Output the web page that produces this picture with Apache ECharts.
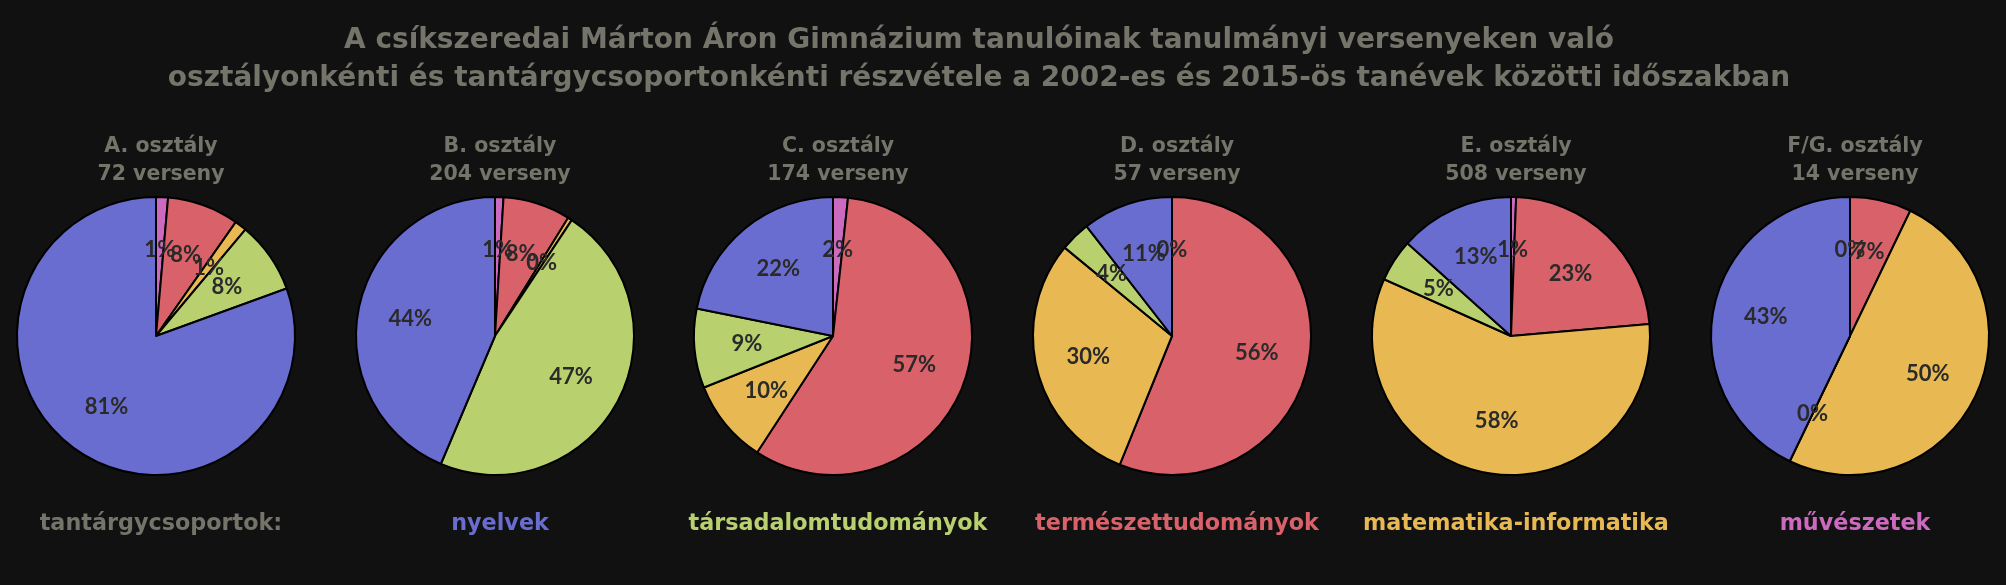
<!DOCTYPE html>
<html><head><meta charset="utf-8">
<script src="https://cdn.jsdelivr.net/npm/echarts@6/dist/echarts.min.js"></script>
<style>html,body{margin:0;padding:0;background:#111111;}#c{width:2006px;height:585px;}</style>
</head><body><div id="c"></div>
<script>
const titleText = 'A csíkszeredai Márton Áron Gimnázium tanulóinak tanulmányi versenyeken való\nosztályonkénti és tantárgycsoportonkénti részvétele a 2002-es és 2015-ös tanévek közötti időszakban';
const categories = ['művészetek', 'természettudományok', 'matematika-informatika', 'társadalomtudományok', 'nyelvek'];
const classNames = ['A. osztály', 'B. osztály', 'C. osztály', 'D. osztály', 'E. osztály', 'F/G. osztály'];
const valuesA = [1, 6, 1, 6, 58];
const valuesB = [2, 16, 1, 96, 89];
const valuesC = [3, 100, 17, 16, 38];
const valuesD = [0, 32, 17, 2, 6];
const valuesE = [3, 117, 295, 25, 68];
const valuesFG = [0, 1, 7, 0, 6];
const legendLabels = ['tantárgycsoportok:', 'nyelvek', 'társadalomtudományok', 'természettudományok', 'matematika-informatika', 'művészetek'];

const allValues = [valuesA, valuesB, valuesC, valuesD, valuesE, valuesFG];
const catColors = {
  'művészetek': '#cc6abf',
  'természettudományok': '#d9616a',
  'matematika-informatika': '#e8b952',
  'társadalomtudományok': '#b8d16e',
  'nyelvek': '#6a6dd0'
};
const gray = '#74746a';
const font = 'DejaVu Sans';
const labelFont = 'Lato';
const centersX = [156, 495, 833, 1172, 1511, 1850];
const centerY = 336;
const R = 139;

const titles = [{
  text: titleText, left: 974, top: 17, textAlign: 'center',
  textStyle: { color: gray, fontFamily: font, fontWeight: 'bold', fontSize: 28, lineHeight: 38 }
}];
classNames.forEach((n, i) => {
  const total = allValues[i].reduce((a, b) => a + b, 0);
  titles.push({
    text: n + '\n' + total + ' verseny', left: centersX[i], top: 128, textAlign: 'center',
    textStyle: { color: gray, fontFamily: font, fontWeight: 'bold', fontSize: 20.5, lineHeight: 28 }
  });
});
legendLabels.forEach((t, i) => {
  titles.push({
    text: t, left: centersX[i], top: 508, textAlign: 'center',
    textStyle: { color: i === 0 ? gray : catColors[t], fontFamily: font, fontWeight: 'bold', fontSize: 22.3 }
  });
});

const series = [];
allValues.forEach((vals, i) => {
  const data = categories.map((c, k) => ({ name: c, value: vals[k], itemStyle: { color: catColors[c] } }));
  series.push({
    type: 'pie', center: [centersX[i], centerY], radius: R, startAngle: 90, clockwise: true,
    data: data, label: { show: false }, labelLine: { show: false },
    itemStyle: { borderColor: '#000', borderWidth: 2 }, emphasis: { disabled: true }, silent: true, animation: false
  });
  // transparent overlay carrying the percentage labels at 0.6 R
  series.push({
    type: 'pie', center: [centersX[i], centerY], radius: R * 1.2, startAngle: 90, clockwise: true,
    avoidLabelOverlap: false,
    labelLayout: { hideOverlap: false },
    data: categories.map((c, k) => ({ name: c, value: vals[k] })),
    itemStyle: { color: 'rgba(0,0,0,0)', borderWidth: 0 },
    label: { show: true, position: 'inside', formatter: p => Math.round(p.percent) + '%',
      color: '#2a2a2a', fontFamily: labelFont, fontWeight: 'bold', fontSize: 22 },
    labelLine: { show: false }, emphasis: { disabled: true }, silent: true, animation: false, z: 3
  });
});

const chart = echarts.init(document.getElementById('c'));
chart.setOption({ backgroundColor: '#111111', animation: false, title: titles, series: series });
</script></body></html>
